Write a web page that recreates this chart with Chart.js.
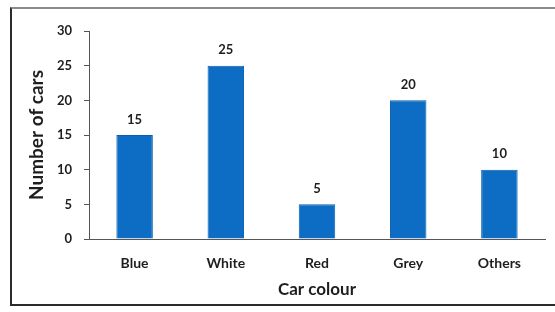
<!doctype html>
<html lang="en">
<head>
<meta charset="utf-8" />
<title>Car colours</title>
<style>
  *{box-sizing:border-box}
  body{margin:0; background:#fff; width:555px; height:312px; overflow:hidden; position:relative}
  .frame{position:absolute; left:10px; top:7px; width:560px; height:299px;
         border:2px solid #2b2b2b; border-top-color:#8a8a8a}
  .wrap{position:absolute; left:0; top:0; width:555px; height:312px}
</style>
<script src="https://cdn.jsdelivr.net/npm/chart.js@4.4.1/dist/chart.umd.min.js"></script>
</head>
<body>
<div class="frame"></div>
<div class="wrap"><canvas id="c"></canvas></div>
<script>
// data
const colours = ["Blue", "White", "Red", "Grey", "Others"];
const cars = [15, 25, 5, 20, 10];
const yTicks = [0, 5, 10, 15, 20, 25, 30];

const ink = "#1e1e1e";
const font = "Lato, 'DejaVu Sans', sans-serif";

// value labels above each bar
const barLabels = {
  id: "barLabels",
  afterDatasetsDraw(chart) {
    const ctx = chart.ctx;
    const meta = chart.getDatasetMeta(0);
    ctx.save();
    ctx.font = "bold 13px " + font;
    ctx.fillStyle = ink;
    ctx.textAlign = "center";
    ctx.textBaseline = "bottom";
    meta.data.forEach((bar, i) => {
      ctx.fillText(String(cars[i]), bar.x, bar.y - 9);
    });
    ctx.restore();
  }
};

new Chart(document.getElementById("c"), {
  type: "bar",
  data: {
    labels: colours,
    datasets: [{
      data: cars,
      backgroundColor: "#0d6dc4",
      borderColor: "#0a5fae",
      borderWidth: 1,
      barPercentage: 0.4,
      categoryPercentage: 1
    }]
  },
  options: {
    responsive: true,
    maintainAspectRatio: false,
    animation: false,
    layout: { padding: { left: 21, top: 31, right: 10, bottom: 12 } },
    plugins: { legend: { display: false }, tooltip: { enabled: false } },
    scales: {
      x: {
        grid: { display: false },
        border: { display: true, color: "#555", width: 1 },
        ticks: { color: ink, font: { family: font, size: 14, weight: "bold" }, padding: 8 },
        title: { display: true, text: "Car colour", color: ink,
                 font: { family: font, size: 17, weight: "bold" }, padding: { top: 0, bottom: 0 } },
        afterFit(s) { s.height = 61; }
      },
      y: {
        min: 0, max: 30,
        afterBuildTicks(s) { s.ticks = yTicks.map(v => ({ value: v })); },
        grid: { drawOnChartArea: false, drawTicks: true, tickLength: 5, color: "#555" },
        border: { display: true, color: "#555", width: 1 },
        ticks: { color: ink, font: { family: font, size: 13, weight: "bold" }, padding: 12 },
        title: { display: true, text: "Number of cars", color: ink,
                 font: { family: font, size: 19, weight: "bold" }, padding: { top: 4, bottom: 4 } },
        afterFit(s) { s.width = 68; }
      }
    }
  },
  plugins: [barLabels]
});
</script>
</body>
</html>
